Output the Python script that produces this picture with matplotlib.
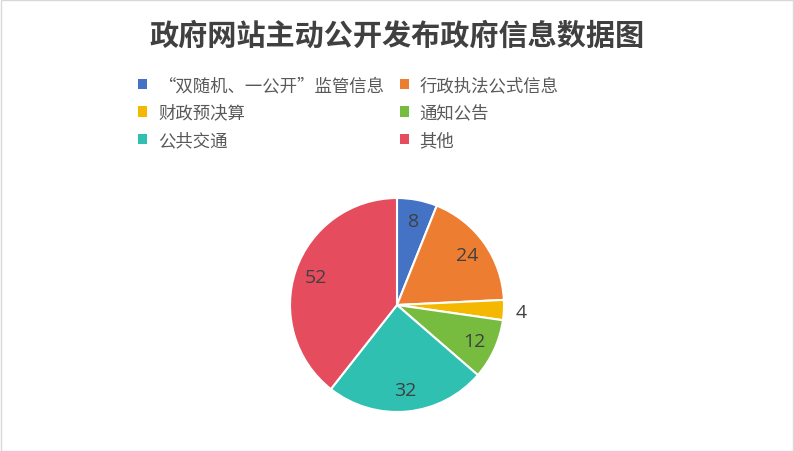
import matplotlib.pyplot as plt
from matplotlib.patches import Patch, Rectangle

plt.rcParams['font.family'] = ['Noto Sans CJK SC', 'DejaVu Sans']

title = '政府网站主动公开发布政府信息数据图'
categories = ['“双随机、一公开”监管信息', '行政执法公式信息', '财政预决算',
              '通知公告', '公共交通', '其他']
values = [8, 24, 4, 12, 32, 52]
colors = ['#4472C4', '#ED7D31', '#F4B800', '#77BC3F', '#2FC0B2', '#E54C5E']

W, H = 794, 452
fig = plt.figure(figsize=(W / 100, H / 100), dpi=100)

# light grey frame round the whole chart
fig.patches.append(Rectangle((0.5 / W, 0.5 / H), 1 - 1.5 / W, 1 - 1.5 / H,
                             transform=fig.transFigure, fill=False,
                             edgecolor='#D9D9D9', linewidth=1))

fig.text(397 / W, 1 - 36 / H, title, ha='center', va='center',
         fontsize=21, fontweight='bold', color='#404040')

# pie: centre (397,306) px, radius 107 px
cx, cy, r = 397, 306, 107
ax = fig.add_axes([(cx - r) / W, (H - cy - r) / H, 2 * r / W, 2 * r / H])
wedges, texts = ax.pie(values, colors=colors, startangle=90, counterclock=False,
                       labels=[str(v) for v in values], labeldistance=0.8,
                       wedgeprops=dict(edgecolor='white', linewidth=1.5),
                       textprops=dict(fontsize=14, color='#404040',
                                      family=['Open Sans', 'DejaVu Sans']))
for t in texts:
    t.set_ha('center')
    t.set_va('center')
# the small slice has its label outside
texts[2].set_position((1.16, -0.07))
ax.set_xlim(-1, 1)
ax.set_ylim(-1, 1)
ax.set_aspect('equal')

handles = [Patch(facecolor=c, edgecolor='none') for c in colors]
order = [0, 2, 4, 1, 3, 5]
fig.legend([handles[i] for i in order], [categories[i] for i in order],
           ncol=2, loc='upper left', bbox_to_anchor=(131 / W, 1 - 70 / H),
           frameon=False, fontsize=12.5, labelcolor='#595959',
           handlelength=0.55, handleheight=0.55, handletextpad=0.6,
           labelspacing=0.55, columnspacing=0.9, borderaxespad=0)

fig.savefig('out.png', dpi=100)
